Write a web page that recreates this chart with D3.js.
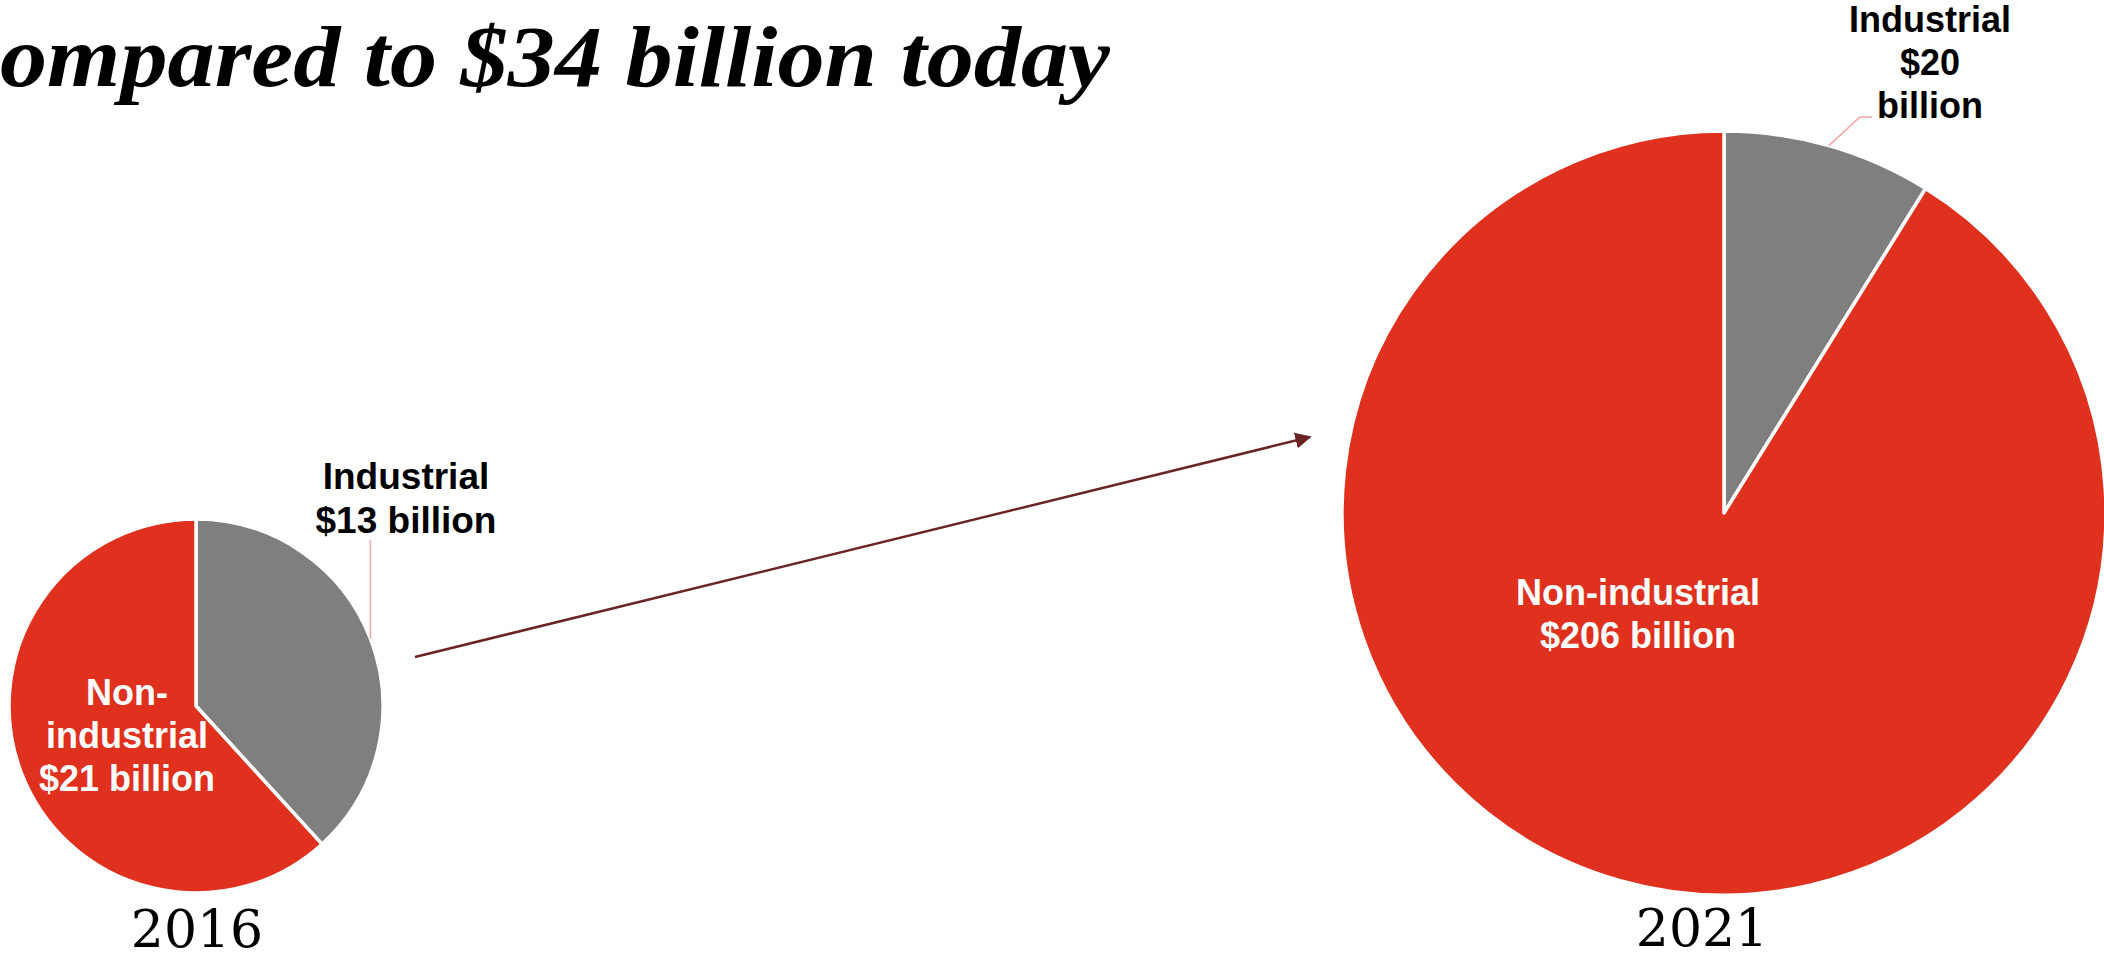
<!DOCTYPE html>
<html>
<head>
<meta charset="utf-8">
<script src="https://cdn.jsdelivr.net/npm/d3@7"></script>
<style>
  html, body { margin: 0; padding: 0; background: #ffffff; overflow: hidden; }
  svg { display: block; }
</style>
</head>
<body>
<svg id="chart" width="2104" height="958"></svg>
<script>
// ---- data ----
const years = ["2016", "2021"];
const categories = ["Industrial", "Non-industrial"];
const values2016 = [13, 21];
const values2021 = [20, 206];
const titleText = "compared to $34 billion today";
const unitText = "billion";

// ---- style ----
const RED = "#E0301E";
const GRAY = "#7F7F7F";
const colour = d3.scaleOrdinal().domain(categories).range([GRAY, RED]);

const svg = d3.select("#chart");

// ---- title (first letter cut off at the left edge, as in the reference) ----
const TITLE_FONT = "Liberation Serif, Times New Roman, serif";
const TITLE_SIZE = 86;
const titleG = svg.append("g");
const tmp = titleG.append("text")
  .attr("font-family", TITLE_FONT)
  .attr("font-weight", "bold")
  .attr("font-style", "italic")
  .attr("font-size", TITLE_SIZE);
tmp.text(titleText.slice(0, 1));
const wFirst = tmp.node().getComputedTextLength();
tmp.text(titleText.slice(1));
const wRest = tmp.node().getComputedTextLength();
tmp.remove();
const titleRight = 1110;
const sx = titleRight / wRest;
titleG.attr("transform", `translate(0,86) scale(${sx},1)`)
  .append("text")
  .attr("x", -wFirst)
  .attr("y", 0)
  .attr("font-family", TITLE_FONT)
  .attr("font-weight", "bold")
  .attr("font-style", "italic")
  .attr("font-size", TITLE_SIZE)
  .attr("fill", "#000")
  .text(titleText);

// ---- pies ----
const pie = d3.pie().sort(null).value(d => d.value);

const pies = [
  { year: years[0], values: values2016, cx: 196, cy: 706, r: 187, yearX: 197, yearY: 947 },
  { year: years[1], values: values2021, cx: 1724, cy: 513, r: 382, yearX: 1702, yearY: 946 }
];

pies.forEach(p => {
  const data = categories.map((c, i) => ({ cat: c, value: p.values[i] }));
  const arcs = pie(data);
  const arc = d3.arc().innerRadius(0).outerRadius(p.r);
  const g = svg.append("g").attr("transform", `translate(${p.cx},${p.cy})`);
  g.selectAll("path").data(arcs).join("path")
    .attr("d", arc)
    .attr("fill", d => colour(d.data.cat))
    .attr("stroke", "#ffffff")
    .attr("stroke-width", 3.5)
    .attr("stroke-linejoin", "round");
  p.arcs = arcs;

  svg.append("text")
    .attr("x", p.yearX).attr("y", p.yearY)
    .attr("text-anchor", "middle")
    .attr("font-family", "DejaVu Serif")
    .attr("font-size", 52)
    .attr("fill", "#000")
    .text(p.year);
});

// ---- leader lines ----
function edgePoint(p, a) {
  const mid = (a.startAngle + a.endAngle) / 2;
  return [p.cx + p.r * Math.sin(mid), p.cy - p.r * Math.cos(mid)];
}
const leader = d3.line();
const e1 = edgePoint(pies[0], pies[0].arcs[0]);
svg.append("path")
  .attr("d", leader([e1, [e1[0], 540]]))
  .attr("fill", "none").attr("stroke", "#F2A3A3").attr("stroke-width", 1.5);
const e2 = edgePoint(pies[1], pies[1].arcs[0]);
svg.append("path")
  .attr("d", leader([e2, [1860, 117], [1872, 117]]))
  .attr("fill", "none").attr("stroke", "#F2A3A3").attr("stroke-width", 1.5);

// ---- labels ----
function label(lines, x, y0, lh, fill, size) {
  const t = svg.append("text")
    .attr("text-anchor", "middle")
    .attr("font-family", "Liberation Sans, Arial, sans-serif")
    .attr("font-weight", "bold")
    .attr("font-size", size)
    .attr("fill", fill);
  lines.forEach((s, i) => {
    t.append("tspan").attr("x", x).attr("y", y0 + i * lh).text(s);
  });
}
const money = v => `$${v} ${unitText}`;

label([categories[0], money(values2016[0])], 406, 489, 44, "#000", 37);
label(["Non-", "industrial", money(values2016[1])], 127, 705, 43, "#fff", 36);
label([categories[0], `$${values2021[0]}`, unitText], 1930, 32, 43, "#000", 36);
label([categories[1], money(values2021[1])], 1638, 605, 43, "#fff", 36);

// ---- arrow ----
const defs = svg.append("defs");
defs.append("marker")
  .attr("id", "arrowhead")
  .attr("viewBox", "0 0 10 10")
  .attr("refX", 9).attr("refY", 5)
  .attr("markerWidth", 6.5).attr("markerHeight", 6.5)
  .attr("markerUnits", "strokeWidth")
  .attr("orient", "auto")
  .append("path")
  .attr("d", "M0,0 L10,5 L0,10 Z")
  .attr("fill", "#6B2424");
svg.append("path")
  .attr("d", leader([[415, 657], [1310, 437]]))
  .attr("stroke", "#6B2424")
  .attr("stroke-width", 2.5)
  .attr("fill", "none")
  .attr("marker-end", "url(#arrowhead)");
</script>
</body>
</html>
